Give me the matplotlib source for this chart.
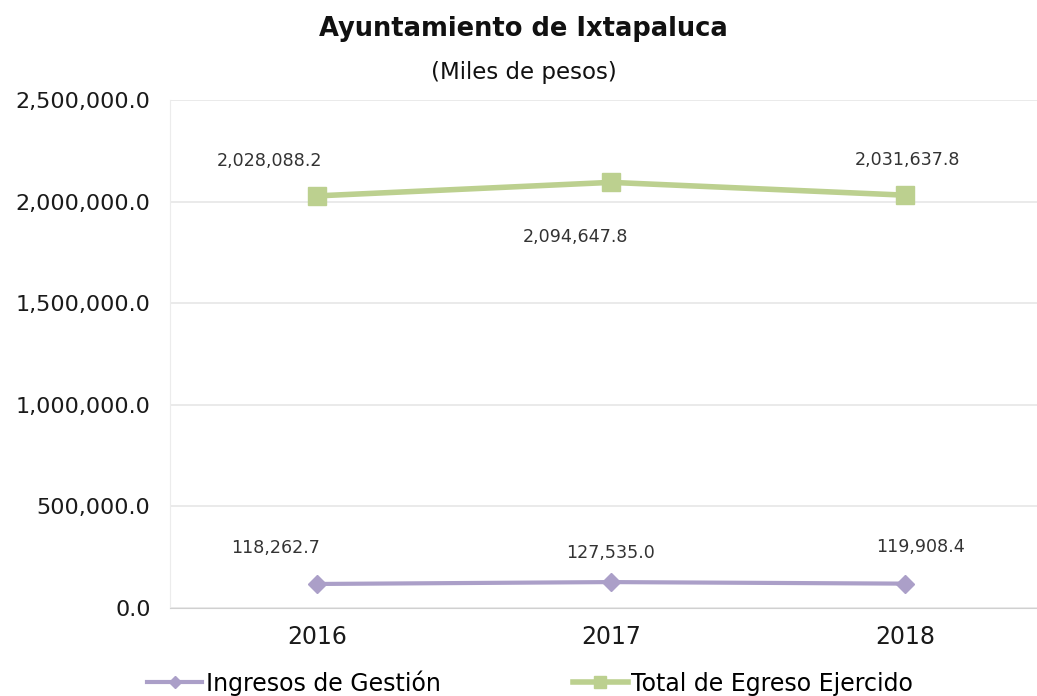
import matplotlib
matplotlib.use("Agg")
import matplotlib.pyplot as plt
from matplotlib.ticker import FuncFormatter

plt.rcParams['font.family'] = ['DejaVu Sans']

years = ['2016', '2017', '2018']
ingresos = [118262.7, 127535.0, 119908.4]
egresos = [2028088.2, 2094647.8, 2031637.8]
ingresos_labels = ['118,262.7', '127,535.0', '119,908.4']
egresos_labels = ['2,028,088.2', '2,094,647.8', '2,031,637.8']

W, H = 1037, 696
fig = plt.figure(figsize=(W / 100, H / 100), dpi=100)
ax = fig.add_axes([170 / W, (H - 608) / H, 882 / W, 508 / H])

x = list(range(len(years)))
purple = '#ab9fc8'
green = '#bcd08f'
ax.plot(x, ingresos, color=purple, lw=3, marker='D', ms=9, label='Ingresos de Gestión', zorder=3)
ax.plot(x, egresos, color=green, lw=4, marker='s', ms=13, label='Total de Egreso Ejercido', zorder=3)

ax.set_xlim(-0.5, 2.5)
ax.set_ylim(0, 2500000)
ax.set_yticks([0, 500000, 1000000, 1500000, 2000000, 2500000])
ax.yaxis.set_major_formatter(FuncFormatter(lambda v, p: f'{v:,.1f}'))
ax.set_xticks(x)
ax.set_xticklabels(years)
ax.grid(axis='y', color='#e6e6e6', lw=1.2)
ax.set_axisbelow(True)
for s in ['top', 'right']:
    ax.spines[s].set_visible(False)
ax.spines['left'].set_color('#ececec')
ax.spines['bottom'].set_color('#d0d0d0')
ax.tick_params(axis='both', length=0)
ax.tick_params(axis='y', labelsize=16, colors='#1a1a1a', pad=14)
ax.tick_params(axis='x', labelsize=17, colors='#1a1a1a', pad=12)

eg_off = [(-47, 35), (-35, -55), (3, 35)]
in_off = [(-41, 36), (0, 29), (16, 37)]
for i in x:
    ax.annotate(egresos_labels[i], (i, egresos[i]), xytext=eg_off[i], textcoords='offset pixels',
                ha='center', va='center', fontsize=12.6, color='#333333')
    ax.annotate(ingresos_labels[i], (i, ingresos[i]), xytext=in_off[i], textcoords='offset pixels',
                ha='center', va='center', fontsize=12.6, color='#333333')

fig.text(523 / W, 1 - 29 / H, 'Ayuntamiento de Ixtapaluca', ha='center', va='center',
         fontsize=18.5, fontweight='bold', color='#111111')
fig.text(524 / W, 1 - 73 / H, '(Miles de pesos)', ha='center', va='center',
         fontsize=16.5, color='#111111')

fig.legend(loc='center left', bbox_to_anchor=(147 / W, 1 - 683 / H), ncol=2, frameon=False,
           borderpad=0, borderaxespad=0,
           fontsize=17, handlelength=2.33, columnspacing=5.6, handletextpad=0.15, markerscale=0.7)

fig.savefig('out.png', dpi=100)
